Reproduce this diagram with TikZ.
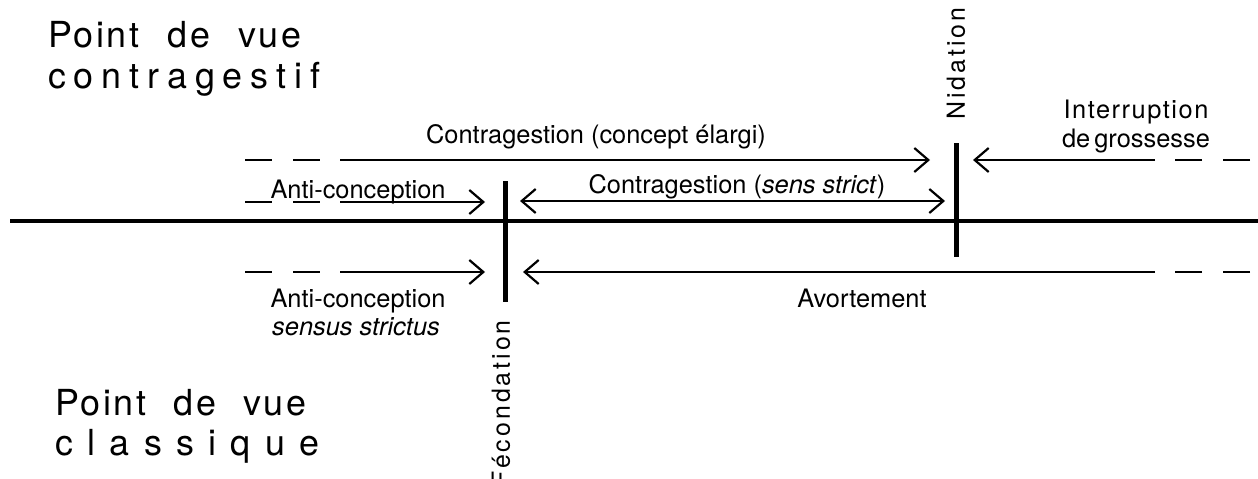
\documentclass[tikz,border=0pt]{standalone}
\usepackage{fontspec}
\setmainfont{TeX Gyre Heros}
\usetikzlibrary{arrows.meta}

\tikzset{
  axe/.style={line width=4.5bp},
  borne/.style={line width=5bp},
  trait/.style={line width=2.2bp},
  fleche/.style={trait,-{Straight Barb[length=14bp,width=24bp]}},
  fleches/.style={trait,{Straight Barb[length=14bp,width=24bp]}-{Straight Barb[length=14bp,width=24bp]}},
  pointille/.style={trait,dash pattern=on 27bp off 21bp},
  etiq/.style={font=\fontsize{25.5}{30}\selectfont,inner sep=0pt,anchor=base},
  titre/.style={font=\fontsize{36}{40}\selectfont\addfontfeature{LetterSpace=#1},inner sep=0pt,anchor=base west},
  vert/.style={font=\fontsize{25}{30}\selectfont\addfontfeature{LetterSpace=12},rotate=90,inner sep=0pt}
}

\begin{document}
\begin{tikzpicture}
\useasboundingbox (0bp,0bp) rectangle (1258bp,-479bp);

% titres
\node (PVh1) at (48bp,-47bp)[titre=7] {Point\hspace{16bp} de\hspace{16bp} vue};
\node (PVh2) at (48bp,-88bp)[titre=22] {contragestif};
\node (PVb1) at (55bp,-415bp)[titre=7] {Point\hspace{15bp} de\hspace{15bp} vue};
\node (PVb2) at (55bp,-455bp)[titre=40] {classique};

% axe du temps
\coordinate (T0) at (10bp,-221bp);
\coordinate (T1) at (1258bp,-221bp);
\draw [axe] (T0) -- (T1);

% bornes
\coordinate (FECh) at (505bp,-181bp);
\coordinate (FECb) at (505bp,-302bp);
\coordinate (NIDh) at (956bp,-143bp);
\coordinate (NIDb) at (956bp,-257bp);
\draw [borne] (FECh) -- (FECb);
\draw [borne] (NIDh) -- (NIDb);
\node (FEC) at (501bp,-320bp)[vert,anchor=east] {Fécondation};
\node (NID) at (956bp,-120bp)[vert,anchor=west] {Nidation};

% contragestion (concept elargi)
\coordinate (A1) at (245bp,-160bp);
\coordinate (A2) at (340bp,-160bp);
\coordinate (A3) at (930bp,-160bp);
\draw [pointille] (A1) -- (A2);
\draw [fleche] (A2) -- (A3);
\node (CE) at (596bp,-143bp)[etiq] {Contragestion (concept élargi)};

% interruption de grossesse
\coordinate (B1) at (973bp,-160bp);
\coordinate (B2) at (1155bp,-160bp);
\coordinate (B3) at (1250bp,-160bp);
\draw [fleche] (B2) -- (B1);
\draw [pointille] (B3) -- (B2);
\node (IG1) at (1136bp,-118bp)[etiq,font=\fontsize{25.5}{30}\selectfont\addfontfeature{LetterSpace=6}] {Interruption};
\node (IG2) at (1136bp,-147bp)[etiq] {de\hspace{4bp}grossesse};

% anti-conception
\coordinate (C1) at (245bp,-202bp);
\coordinate (C2) at (340bp,-202bp);
\coordinate (C3) at (485bp,-202bp);
\draw [pointille] (C1) -- (C2);
\draw [fleche] (C2) -- (C3);
\node (AC) at (358bp,-198bp)[etiq] {Anti-conception};

% contragestion (sens strict)
\coordinate (D1) at (520bp,-201bp);
\coordinate (D2) at (945bp,-201bp);
\draw [fleches] (D1) -- (D2);
\node (CS) at (737bp,-193bp)[etiq] {Contragestion (\textit{sens strict})};

% anti-conception sensus strictus
\coordinate (E1) at (245bp,-272bp);
\coordinate (E2) at (340bp,-272bp);
\coordinate (E3) at (485bp,-272bp);
\draw [pointille] (E1) -- (E2);
\draw [fleche] (E2) -- (E3);
\node (ACs1) at (358bp,-307bp)[etiq] {Anti-conception};
\node (ACs2) at (356bp,-335bp)[etiq] {\textit{sensus strictus}};

% avortement
\coordinate (F1) at (523bp,-272bp);
\coordinate (F2) at (1155bp,-272bp);
\coordinate (F3) at (1250bp,-272bp);
\draw [fleche] (F2) -- (F1);
\draw [pointille] (F3) -- (F2);
\node (AV) at (862bp,-307bp)[etiq] {Avortement};
\end{tikzpicture}
\end{document}
